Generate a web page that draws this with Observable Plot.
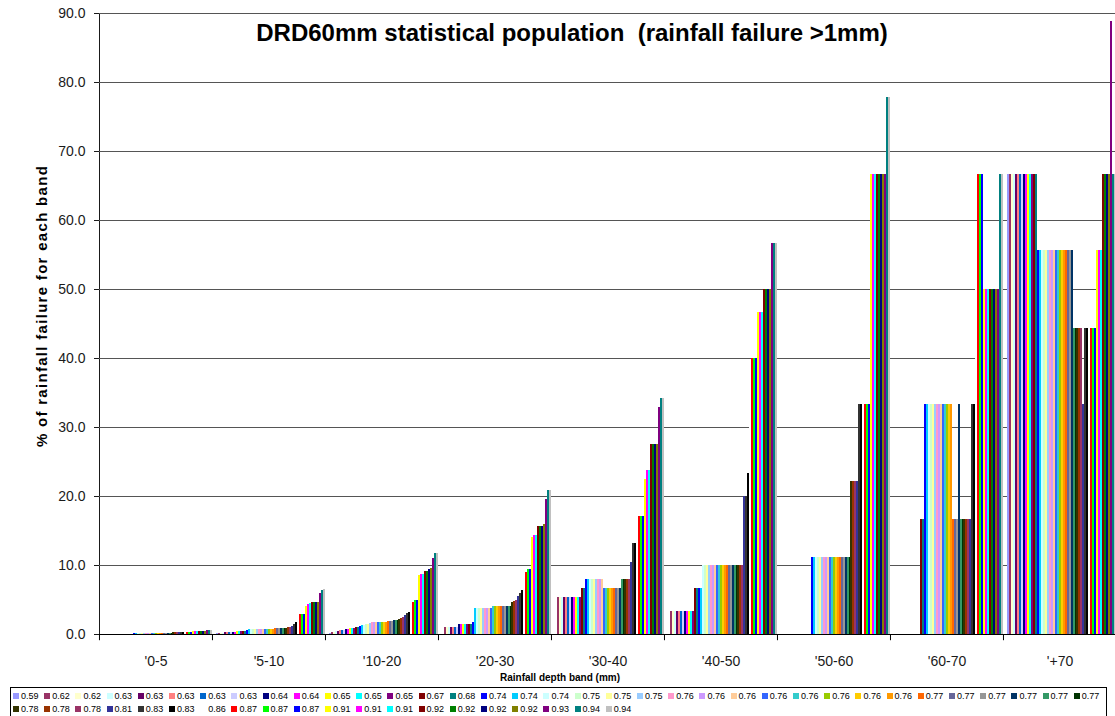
<!DOCTYPE html>
<html>
<head>
<meta charset="utf-8">
<script src="https://cdn.jsdelivr.net/npm/d3@7"></script>
<script src="https://cdn.jsdelivr.net/npm/@observablehq/plot@0.6"></script>
<style>
  html, body { margin: 0; padding: 0; background: white; overflow: hidden; }
  #wrap { position: relative; width: 1115px; height: 716px; overflow: hidden; background: white; font-family: Arial, "Liberation Sans", sans-serif; }
  #chart { position: absolute; left: 0; top: 0; }
  .ov { position: absolute; white-space: pre; color: #000; font-weight: bold; line-height: 1; }
  #legend { position: absolute; left: 10px; top: 687px; width: 1097px; height: 32px; border: 1px solid #000; box-sizing: border-box; }
  .li { position: absolute; font-size: 9px; line-height: 9px; white-space: pre; color: #000; }
  .sw { position: absolute; width: 6px; height: 6px; }
</style>
</head>
<body>
<div id="wrap">
  <div id="chart"></div>
  <div id="title" class="ov"></div>
  <div id="ytitle" class="ov"></div>
  <div id="xtitle" class="ov"></div>
  <div id="legend"></div>
</div>
<script>
// ---- data ----
const bands = ["'0-5", "'5-10", "'10-20", "'20-30", "'30-40", "'40-50", "'50-60", "'60-70", "'+70"];

const seriesLabels = ["0.59","0.62","0.62","0.63","0.63","0.63","0.63","0.63","0.64","0.64","0.65","0.65","0.65","0.67","0.68",
  "0.74","0.74","0.74","0.75","0.75","0.75","0.76","0.76","0.76","0.76","0.76","0.76","0.76","0.76",
  "0.77","0.77","0.77","0.77","0.77","0.77","0.78","0.78","0.78","0.81","0.83","0.83","0.86","0.87","0.87","0.87",
  "0.91","0.91","0.91","0.92","0.92","0.92","0.92","0.93","0.94","0.94"];

const seriesColors = ["#9999FF","#993366","#FFFFCC","#CCFFFF","#660066","#FF8080","#0066CC","#CCCCFF","#000080","#FF00FF",
  "#FFFF00","#00FFFF","#800080","#800000","#008080","#0000FF","#00CCFF","#CCFFFF","#CCFFCC","#FFFF99",
  "#99CCFF","#FF99CC","#CC99FF","#FFCC99","#3366FF","#33CCCC","#99CC00","#FFCC00","#FF9900","#FF6600",
  "#666699","#969696","#003366","#339966","#003300","#333300","#993300","#993366","#333399","#333333",
  "#000000","#FFFFFF","#FF0000","#00FF00","#0000FF","#FFFF00","#FF00FF","#00FFFF","#800000","#008000",
  "#000080","#808000","#800080","#008080","#C0C0C0"];

const band0_5 = [0,0,0,0,0,0,0,0,0,0,0,0,0,0,0,
  0.1,0.1,0.1,0.1,0.1,0.1,
  0.15,0.15,0.15,0.15,0.15,0.15,0.15,0.15,0.15,0.15,0.15,
  0.2,0.2,0.2,0.25,0.25,0.25,0.25,0.25,0.25,
  0.35,0.35,0.35,0.35,
  0.5,0.5,0.5,0.5,0.5,0.5,0.5,
  0.6,0.6,0.6];

const band5_10 = [0.1,0.15,0.15,0.2,0.3,0.3,0.3,0.3,0.35,0.35,0.4,0.4,0.45,0.5,0.5,
  0.6,0.7,0.7,0.7,0.7,0.7,
  0.75,0.75,0.75,0.75,0.75,0.75,0.75,0.75,
  0.8,0.8,0.8,0.8,0.8,0.8,
  0.9,1.0,1.0,1.2,1.4,1.7,2.0,2.9,2.9,2.9,4.1,4.4,4.5,4.6,4.6,4.7,4.7,5.9,6.4,6.5];

const band10_20 = [0.2,0.3,0.3,0.4,0.5,0.6,0.6,0.6,0.7,0.7,0.8,0.8,0.9,1.0,1.0,
  1.2,1.3,1.3,1.4,1.5,1.6,
  1.7,1.7,1.7,1.8,1.8,1.8,1.8,1.8,
  1.9,1.9,1.9,2.0,2.0,2.1,
  2.2,2.3,2.4,2.8,3.1,3.2,4.0,4.7,4.9,4.9,8.6,8.7,8.7,9.2,9.2,9.4,9.5,11.0,11.7,11.8];

const band20_30 = [0,1.0,1.0,1.0,1.0,1.0,1.0,1.0,1.4,1.4,1.5,1.5,1.5,1.5,1.5,
  1.7,3.8,3.8,3.8,3.8,3.8,3.8,3.8,3.8,3.8,
  4.1,4.1,4.1,4.1,4.1,4.1,4.1,4.1,4.1,4.1,
  4.6,4.8,4.9,5.5,5.9,6.4,7.0,9.0,9.4,9.4,14.1,14.3,14.3,15.6,15.6,15.6,15.9,19.5,20.8,20.8];

const band30_40 = [0,5.3,5.3,5.3,5.3,5.3,5.3,5.3,5.3,5.3,5.3,5.3,5.3,6.6,6.6,
  7.9,7.9,7.9,7.9,7.9,7.9,7.9,7.9,7.9,
  6.6,6.6,6.6,6.6,6.6,6.6,6.6,6.6,6.6,
  7.9,7.9,7.9,7.9,7.9,
  10.5,13.2,13.2,15.0,17.1,17.1,17.1,22.4,23.7,23.7,27.6,27.6,27.6,27.6,32.9,34.2,34.2];

const band40_50 = [0,3.3,3.3,3.3,3.3,3.3,3.3,3.3,3.3,3.3,3.3,3.3,3.3,
  6.7,6.7,6.7,6.7,
  10,10,10,10,10,10,10,10,10,10,10,10,10,10,10,10,10,10,10,10,10,
  20,20,23.3,30,40,40,40,46.7,46.7,46.7,50,50,50,50,56.7,56.7,56.7];

const band50_60 = [0,0,0,0,0,0,0,0,0,0,0,0,0,0,0,
  11.1,11.1,11.1,11.1,11.1,11.1,11.1,11.1,11.1,11.1,11.1,11.1,11.1,11.1,11.1,11.1,11.1,11.1,11.1,11.1,
  22.2,22.2,22.2,22.2,
  33.3,33.3,33.3,33.3,33.3,33.3,
  66.7,66.7,66.7,66.7,66.7,66.7,66.7,66.7,
  77.8,77.8];

const band60_70 = [0,0,0,0,0,0,0,0,0,0,0,0,0,
  16.7,16.7,
  33.3,33.3,33.3,33.3,33.3,33.3,33.3,33.3,33.3,33.3,33.3,33.3,33.3,33.3,
  16.7,16.7,16.7,33.3,
  16.7,16.7,16.7,16.7,16.7,16.7,
  33.3,33.3,50,66.7,66.7,66.7,
  50,50,50,50,50,50,50,50,
  66.7,66.7];

const band70 = [66.7,66.7,66.7,66.7,66.7,66.7,66.7,66.7,66.7,66.7,66.7,66.7,66.7,66.7,66.7,
  55.6,55.6,55.6,55.6,55.6,55.6,55.6,55.6,55.6,55.6,55.6,55.6,55.6,55.6,55.6,55.6,55.6,55.6,
  44.4,44.4,44.4,44.4,44.4,33.3,44.4,44.4,44.4,44.4,44.4,44.4,
  55.6,55.6,55.6,66.7,66.7,66.7,66.7,88.9,66.7,66.7];

const yTicks = [0,10,20,30,40,50,60,70,80,90];

const chartTitle = "DRD60mm statistical population  (rainfall failure >1mm)";
const yTitle = "% of rainfall failure for each band";
const xTitle = "Rainfall depth band (mm)";

// ---- build table ----
const bandValues = [band0_5, band5_10, band10_20, band20_30, band30_40, band40_50, band50_60, band60_70, band70];
const table = bands.flatMap((b, bi) => bandValues[bi].map((v, i) => ({band: b, idx: i, value: v, color: seriesColors[i]})));

const chart = Plot.plot({
  width: 1120,
  height: 684,
  marginLeft: 97,
  marginRight: 3,
  marginTop: 13,
  marginBottom: 50,
  style: {fontFamily: "Arial, 'Liberation Sans', sans-serif", fontSize: "14px", color: "#1a1a1a", background: "white", maxWidth: "none"},
  fx: {domain: bands, padding: 0, axis: "bottom", label: null, tickSize: 0, tickPadding: 22},
  x: {domain: d3.range(55), axis: null, paddingInner: 0, paddingOuter: 1.1, align: 1},
  y: {domain: [0, 90], ticks: yTicks, tickFormat: d => d.toFixed(1), label: null, tickSize: 5, tickPadding: 9, line: true},
  color: {type: "identity"},
  marks: [
    Plot.ruleY(yTicks.filter(d => d > 0), {stroke: "#555", strokeWidth: 1}),
    Plot.barY(table, {fx: "band", x: "idx", y: "value", fill: "color", shapeRendering: "crispEdges"}),
    Plot.ruleY([0], {stroke: "#000", strokeWidth: 1}),
    Plot.ruleX(bands.map(b => ({band: b})), {fx: "band", x: () => 0, y1: 0, y2: -0.9, dx: -5.35, stroke: "#000"})
  ]
});
document.getElementById("chart").appendChild(chart);

// titles
const t = document.getElementById("title");
t.textContent = chartTitle;
t.style.fontSize = "24px";
t.style.left = "572px";
t.style.top = "21px";
t.style.transform = "translateX(-50%)";

const yt = document.getElementById("ytitle");
yt.textContent = yTitle;
yt.style.fontSize = "15px";
yt.style.letterSpacing = "1.3px";
yt.style.left = "41px";
yt.style.top = "306px";
yt.style.transform = "translate(-50%, -50%) rotate(-90deg)";

const xt = document.getElementById("xtitle");
xt.textContent = xTitle;
xt.style.fontSize = "10px";
xt.style.left = "560px";
xt.style.top = "673px";
xt.style.transform = "translateX(-50%)";

// legend
const legend = document.getElementById("legend");
const perRow = 35;
seriesLabels.forEach((lab, i) => {
  const col = i % perRow, row = Math.floor(i / perRow);
  const x0 = 2 + col * 31.2;
  const y0 = 4 + row * 13;
  const sw = document.createElement("div");
  sw.className = "sw";
  sw.style.left = x0 + "px";
  sw.style.top = (y0 + 1) + "px";
  sw.style.background = seriesColors[i];
  legend.appendChild(sw);
  const tx = document.createElement("div");
  tx.className = "li";
  tx.style.left = (x0 + 8) + "px";
  tx.style.top = y0 + "px";
  tx.textContent = lab;
  legend.appendChild(tx);
});
</script>
</body>
</html>
